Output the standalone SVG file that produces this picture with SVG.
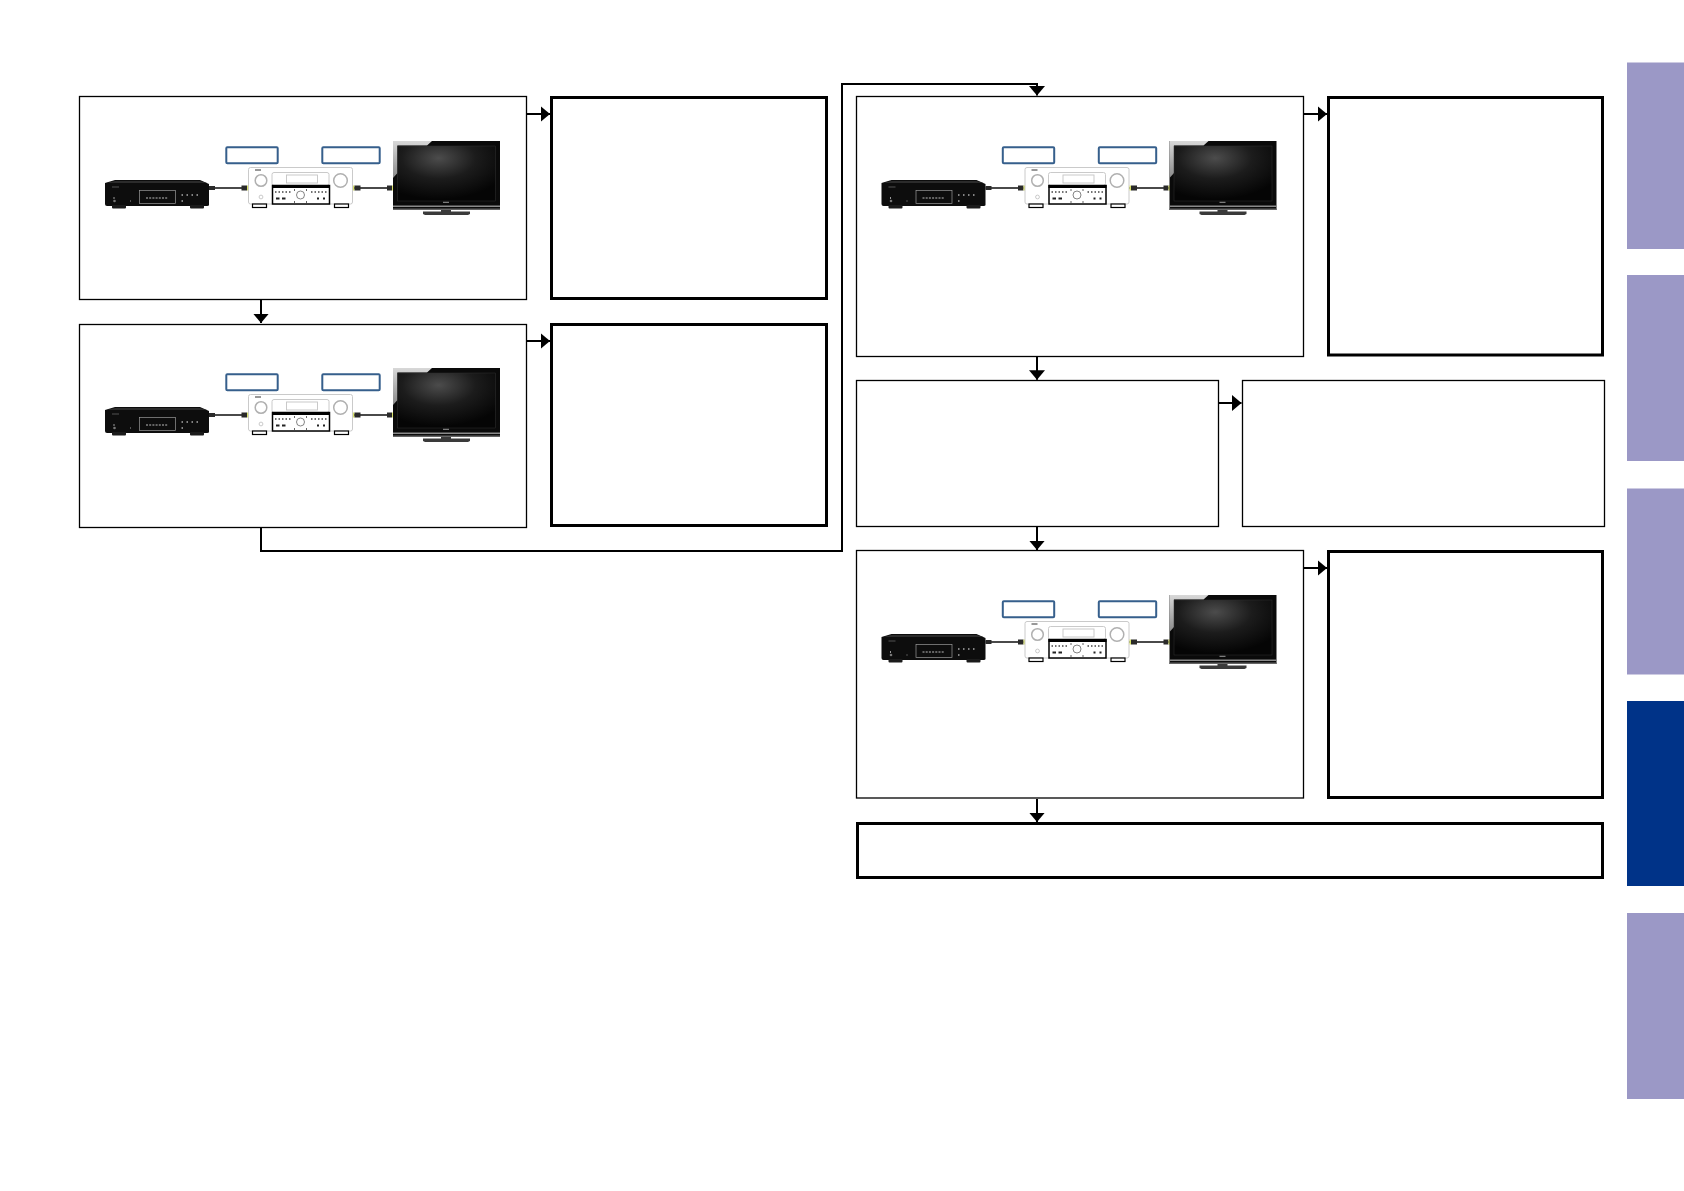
<svg xmlns="http://www.w3.org/2000/svg" xmlns:xlink="http://www.w3.org/1999/xlink" width="1684" height="1191" viewBox="0 0 1684 1191">
<style>
.thin{fill:#fff;stroke:#000;stroke-width:1.3}
.thick{fill:#fff;stroke:#000;stroke-width:3}
.lbl{fill:#fff;stroke:#365f8c;stroke-width:2}
.wire{fill:none;stroke:#000;stroke-width:2}
.tab{fill:#9b98c6}
.cable{fill:none;stroke:#4a4a4a;stroke-width:1.800}
.plug{fill:#2a2a2a}
.tip{fill:#d9e26a}
.rx{fill:#fff;stroke:#c4c4c4;stroke-width:.9}
.knob{fill:#fff;stroke:#b0b0b0;stroke-width:1.500}
</style>
<defs>
<radialGradient id="scr" cx=".42" cy=".22" r=".75"><stop offset="0" stop-color="#4c4c4c"/><stop offset=".5" stop-color="#1c1c1c"/><stop offset="1" stop-color="#050505"/></radialGradient>
<linearGradient id="gloss" x1="0" y1="0" x2="0" y2="1"><stop offset="0" stop-color="#d8d8d8"/><stop offset="1" stop-color="#8a8a8a"/></linearGradient>
<marker id="ah" markerUnits="userSpaceOnUse" markerWidth="10" markerHeight="16" refX="9.500" refY="8" orient="auto"><path d="M0 0L9.500 8L0 16Z" fill="#000"/></marker>
<g id="scene">
<rect class="lbl" x="226.300" y="147.300" width="51.400" height="16" rx="1"/>
<rect class="lbl" x="322.300" y="147.300" width="57.400" height="16" rx="1"/>
<path d="M105 183L115 180H200L209 184V205Q209 206 207 206H107Q105 206 105 204Z" fill="#0d0d0d"/>
<path d="M107 183L115 181H200L207 183Z" fill="#2b2b2b"/>
<rect x="112" y="205" width="14" height="3.500" rx="1" fill="#1b1b1b"/><rect x="190" y="205" width="14" height="3.500" rx="1" fill="#1b1b1b"/>
<rect x="139.500" y="190.500" width="36" height="13" fill="none" stroke="#9a9a9a" stroke-width=".7"/>
<path d="M146 198H168" stroke="#bbb" stroke-width="1" stroke-dasharray="2 1.200"/>
<path d="M181.500 195h1.500M186.500 195h1.500M191.500 195h1.500M196.500 195h1.500M181.500 201h1.500" stroke="#aaa" stroke-width="1.500"/>
<path d="M114 197v2M130 201h1" stroke="#999" stroke-width="1"/><circle cx="114.500" cy="201" r="1.300" fill="#777"/>
<path d="M112 187h7" stroke="#666" stroke-width=".8"/>
<path d="M209 188H247" class="cable"/><rect x="209" y="186" width="6" height="4" class="plug"/><rect x="241.500" y="185.500" width="5.500" height="5" class="plug"/>
<rect x="247" y="185.500" width="1.500" height="5" class="tip"/>
<rect class="rx" x="248.500" y="167.500" width="104" height="36.500" rx="2"/>
<rect x="252.500" y="204" width="14" height="3.500" fill="#fff" stroke="#000" stroke-width="1.200"/><rect x="334.500" y="204" width="14" height="3.500" fill="#fff" stroke="#000" stroke-width="1.200"/>
<path d="M255 170h6" stroke="#333" stroke-width="1"/>
<circle class="knob" cx="261" cy="180.500" r="5.800"/><circle class="knob" cx="340.500" cy="180.500" r="6.800"/><circle class="rx" cx="261" cy="197" r="1.900"/><circle class="rx" cx="276" cy="179" r="1.800"/>
<rect class="rx" x="272" y="172.500" width="57" height="13" rx="2"/><rect class="rx" x="286.500" y="175" width="31" height="8"/>
<rect x="272.500" y="185.500" width="57" height="18.500" fill="#fff" stroke="#000" stroke-width="1.500"/><rect x="272" y="185" width="58" height="3" fill="#000"/>
<path d="M275 192h1.500M278.500 192h1.500M282 192h1.500M285.500 192h1.500M289 192h1.500M311 192h1.500M314.500 192h1.500M318 192h1.500M321.500 192h1.500M325 192h1.500" stroke="#444" stroke-width="1.300"/>
<path d="M276 198.500h3.500M282 198.500h3.500M317 198.500h2M323 198.500h2" stroke="#222" stroke-width="2"/>
<path d="M294 190h1M306 190h1M294 202h1M306 202h1" stroke="#333" stroke-width="1.500"/>
<circle cx="300.500" cy="195" r="4" fill="#fff" stroke="#666" stroke-width=".8"/>
<path d="M353 188H393" class="cable"/><rect x="353" y="185.500" width="1.500" height="5" class="tip"/><rect x="354.500" y="185.500" width="6" height="5" class="plug"/><rect x="387" y="185.500" width="5" height="5" class="plug"/><rect x="392" y="185.500" width="1.500" height="5" class="tip"/>
<rect x="393" y="141" width="107" height="69" fill="#0a0a0a"/>
<path d="M393 141H432L427 145.500H397.500V173L393 178Z" fill="url(#gloss)"/>
<rect x="397.500" y="146" width="98" height="55" fill="url(#scr)" stroke="#333" stroke-width=".5"/>
<rect x="393" y="205.500" width="107" height="1.500" fill="#8a8a8a"/>
<rect x="393" y="208.500" width="107" height="1.500" fill="#666"/>
<rect x="443" y="201.800" width="6" height="1" fill="#999"/>
<path d="M441 210h10v1.500h19v2.500l-2 1h-43l-2-1v-2.500h18Z" fill="#3a3a3a"/>
</g>
</defs>
<g id="connectors">
<path class="wire" d="M526 114H550" marker-end="url(#ah)"/>
<path class="wire" d="M261 300V323" marker-end="url(#ah)"/>
<path class="wire" d="M526 341H550" marker-end="url(#ah)"/>
<path class="wire" d="M261 528V551H842V84H1037V95.500" marker-end="url(#ah)"/>
<path class="wire" d="M1304 114H1327" marker-end="url(#ah)"/>
<path class="wire" d="M1037 357V379.700" marker-end="url(#ah)"/>
<path class="wire" d="M1219 403H1241.500" marker-end="url(#ah)"/>
<path class="wire" d="M1037 527V550" marker-end="url(#ah)"/>
<path class="wire" d="M1304 568H1327" marker-end="url(#ah)"/>
<path class="wire" d="M1037 799V822" marker-end="url(#ah)"/>
</g>
<g id="n1"><rect class="thin" x="79.500" y="96.500" width="447" height="203"/><use xlink:href="#scene"/></g>
<g id="n1r"><rect class="thick" x="551.500" y="97.500" width="275" height="201"/></g>
<g id="n2"><rect class="thin" x="79.500" y="324.500" width="447" height="203"/><use xlink:href="#scene" y="227"/></g>
<g id="n2r"><rect class="thick" x="551.500" y="324.500" width="275" height="201"/></g>
<g id="n3"><rect class="thin" x="856.500" y="96.500" width="447" height="260"/><use xlink:href="#scene" x="776.500"/></g>
<g id="n3r"><rect class="thick" x="1328.500" y="97.500" width="274" height="257.500"/></g>
<g id="n4"><rect class="thin" x="856.500" y="380.500" width="362" height="146"/></g>
<g id="n4r"><rect class="thin" x="1242.500" y="380.500" width="362" height="146"/></g>
<g id="n5"><rect class="thin" x="856.500" y="550.500" width="447" height="247.500"/><use xlink:href="#scene" x="776.500" y="454"/></g>
<g id="n5r"><rect class="thick" x="1328.500" y="551.500" width="274" height="246"/></g>
<g id="n6"><rect class="thick" x="857.500" y="823.500" width="745" height="54"/></g>
<g id="tabs">
<rect class="tab" x="1627" y="62.500" width="57" height="186.500"/>
<rect class="tab" x="1627" y="275" width="57" height="186"/>
<rect class="tab" x="1627" y="488.500" width="57" height="186"/>
<rect x="1627" y="701" width="57" height="185" fill="#003388"/>
<rect class="tab" x="1627" y="913" width="57" height="186"/>
</g>
</svg>
